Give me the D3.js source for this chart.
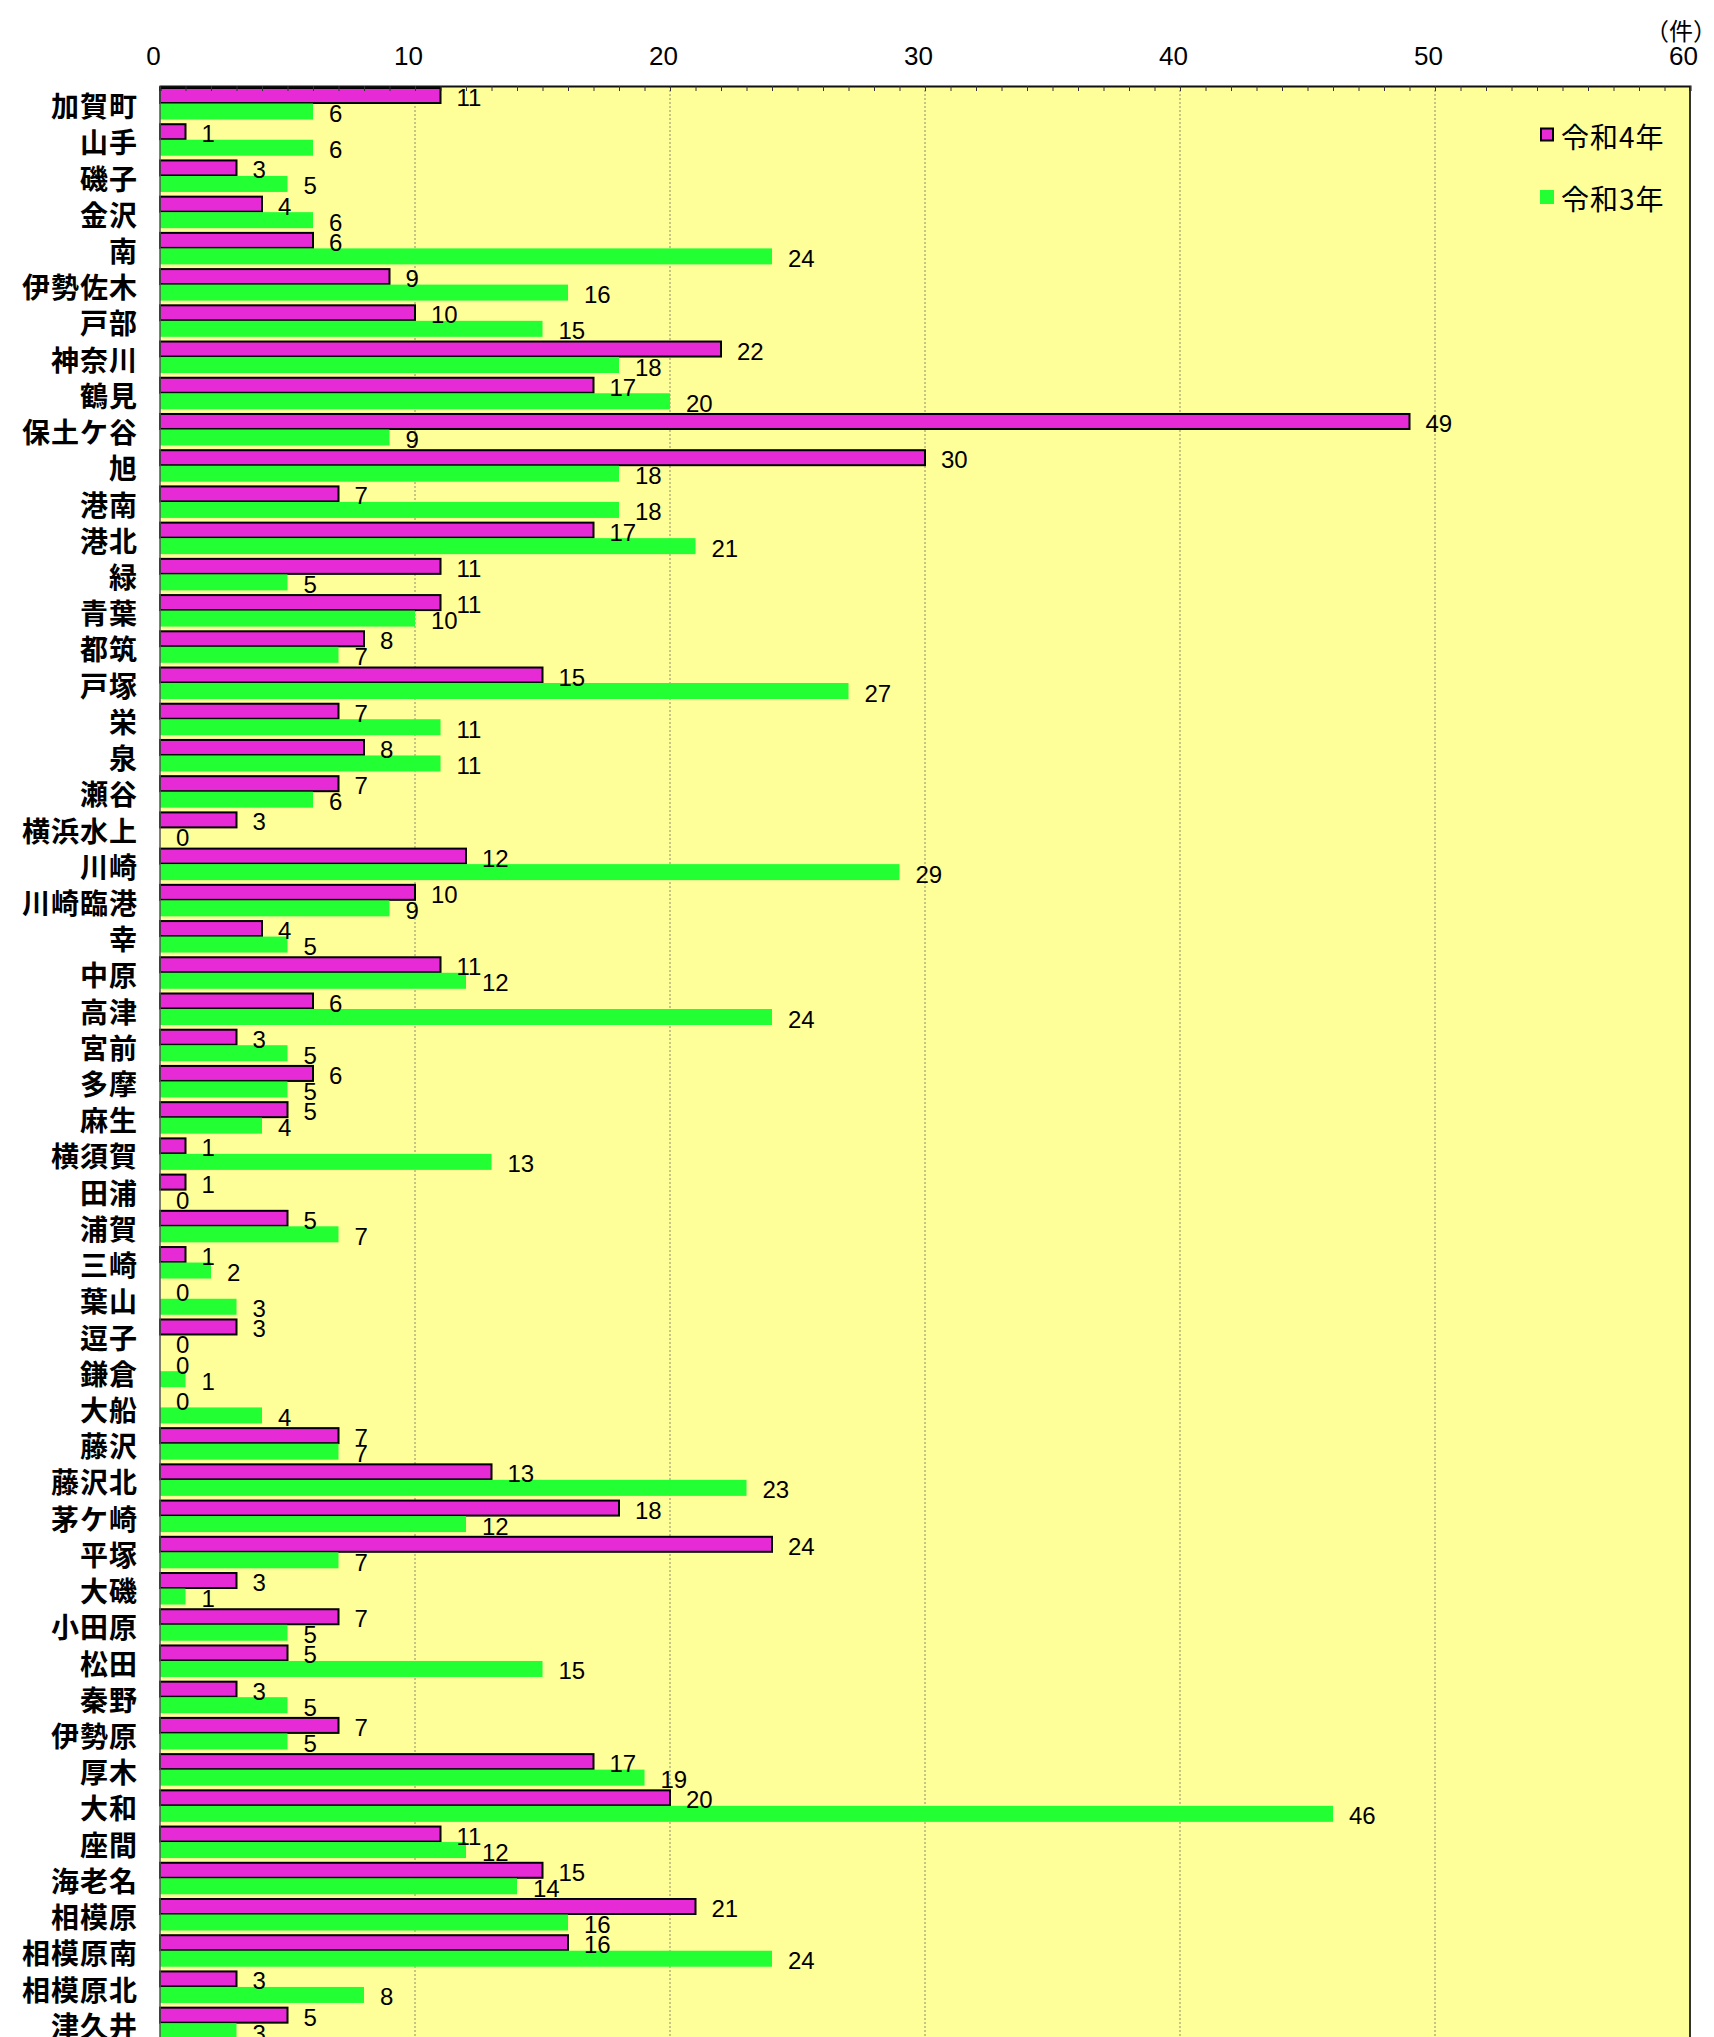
<!DOCTYPE html>
<html>
<head>
<meta charset="utf-8">
<script src="https://cdn.jsdelivr.net/npm/d3@7/dist/d3.min.js"></script>
<style>
  html, body { margin: 0; padding: 0; background: #ffffff; }
  svg { display: block; }
  .num { font-family: "Liberation Sans Narrow", "Arial Narrow", "Liberation Sans", sans-serif; font-stretch: condensed; }
  .jp { font-family: "Noto Sans CJK JP", "Noto Sans", sans-serif; }
</style>
</head>
<body>
<svg id="chart" width="1714" height="2037"></svg>
<script>
// Police stations (rows, top to bottom)
const categories = [
  "加賀町","山手","磯子","金沢","南","伊勢佐木","戸部","神奈川","鶴見","保土ケ谷",
  "旭","港南","港北","緑","青葉","都筑","戸塚","栄","泉","瀬谷",
  "横浜水上","川崎","川崎臨港","幸","中原","高津","宮前","多摩","麻生","横須賀",
  "田浦","浦賀","三崎","葉山","逗子","鎌倉","大船","藤沢","藤沢北","茅ケ崎",
  "平塚","大磯","小田原","松田","秦野","伊勢原","厚木","大和","座間","海老名",
  "相模原","相模原南","相模原北","津久井"
];

// 令和4年 counts
const reiwa4 = [
  11, 1, 3, 4, 6, 9, 10, 22, 17, 49,
  30, 7, 17, 11, 11, 8, 15, 7, 8, 7,
  3, 12, 10, 4, 11, 6, 3, 6, 5, 1,
  1, 5, 1, 0, 3, 0, 0, 7, 13, 18,
  24, 3, 7, 5, 3, 7, 17, 20, 11, 15,
  21, 16, 3, 5
];

// 令和3年 counts
const reiwa3 = [
  6, 6, 5, 6, 24, 16, 15, 18, 20, 9,
  18, 18, 21, 5, 10, 7, 27, 11, 11, 6,
  0, 29, 9, 5, 12, 24, 5, 5, 4, 13,
  0, 7, 2, 3, 0, 1, 4, 7, 23, 12,
  7, 1, 5, 15, 5, 5, 19, 46, 12, 14,
  16, 24, 8, 3
];

const seriesNames = ["令和4年", "令和3年"];
const xMax = 60;
const majorTicks = [0, 10, 20, 30, 40, 50, 60];
const minorTicks = d3.range(0, 61, 1);
const unitLabel = "（件）";

const colors = { "令和4年": "#e62ad6", "令和3年": "#22ff33" };

const svg = d3.select("#chart");

const plotLeft = 160, plotRight = 1690, plotTop = 86, rowH = 36.22;
const plotBottom = plotTop + categories.length * rowH;

const x = d3.scaleLinear().domain([0, xMax]).range([plotLeft, plotRight]);
const y = d3.scaleBand().domain(categories).range([plotTop, plotBottom]).padding(0);
const sub = d3.scaleBand().domain(seriesNames).range([1.5, 33.5]).padding(0);

const rows = categories.map((c, i) => ({ name: c, values: [
  { series: seriesNames[0], value: reiwa4[i] },
  { series: seriesNames[1], value: reiwa3[i] }
]}));

// plot background
svg.append("rect")
  .attr("x", plotLeft).attr("y", plotTop)
  .attr("width", plotRight - plotLeft).attr("height", plotBottom - plotTop)
  .attr("fill", "#ffff99");

// dashed vertical gridlines
svg.append("g").selectAll("line")
  .data(majorTicks.filter(t => t > 0 && t < xMax))
  .join("line")
  .attr("x1", d => x(d)).attr("x2", d => x(d))
  .attr("y1", plotTop).attr("y2", plotBottom)
  .attr("stroke", "#8a8a70").attr("stroke-width", 1)
  .attr("stroke-dasharray", "2,2");

// bars
const groups = svg.append("g").selectAll("g")
  .data(rows)
  .join("g")
  .attr("transform", d => `translate(0,${y(d.name)})`);

groups.selectAll("rect")
  .data(d => d.values)
  .join("rect")
  .attr("x", x(0))
  .attr("y", d => sub(d.series) + (d.series === seriesNames[0] ? 0.5 : 0))
  .attr("width", d => x(d.value) - x(0))
  .attr("height", d => sub.bandwidth() - (d.series === seriesNames[0] ? 1 : 0))
  .attr("fill", d => colors[d.series])
  .attr("stroke", d => d.series === seriesNames[0] ? "#000" : "none")
  .attr("stroke-width", 2);

// value labels
groups.selectAll("text")
  .data(d => d.values)
  .join("text")
  .attr("class", "num")
  .attr("x", d => x(d.value) + 16)
  .attr("y", d => sub(d.series) + sub.bandwidth() / 2 + 2)
  .attr("dominant-baseline", "central")
  .attr("font-size", 24)
  .attr("fill", "#000")
  .text(d => d.value);

// frame: left, right
svg.append("line")
  .attr("x1", plotLeft).attr("x2", plotLeft).attr("y1", plotTop).attr("y2", plotBottom)
  .attr("stroke", "#555").attr("stroke-width", 1.5);
svg.append("line")
  .attr("x1", plotRight).attr("x2", plotRight).attr("y1", plotTop).attr("y2", plotBottom)
  .attr("stroke", "#333").attr("stroke-width", 2);

// top axis with inward minor ticks every unit
const axis = d3.axisTop(x)
  .tickValues(minorTicks)
  .tickSize(-5)
  .tickPadding(21)
  .tickFormat(d => majorTicks.includes(d) ? d : "");

const ax = svg.append("g")
  .attr("transform", `translate(0,${plotTop})`)
  .call(axis);
ax.select(".domain").attr("stroke", "#111").attr("stroke-width", 2);
ax.selectAll(".tick line").attr("stroke", "#333").attr("stroke-width", 1);
ax.selectAll(".tick text")
  .attr("class", "num")
  .attr("font-size", 26)
  .attr("fill", "#000")
  .attr("dx", -7);
ax.attr("font-family", null).attr("font-size", null);

// unit label
svg.append("text")
  .attr("class", "jp")
  .attr("x", 1681).attr("y", 29)
  .attr("text-anchor", "middle")
  .attr("dominant-baseline", "central")
  .attr("font-size", 24)
  .attr("fill", "#000")
  .text(unitLabel);

// category labels
svg.append("g").selectAll("text")
  .data(categories)
  .join("text")
  .attr("class", "jp")
  .attr("x", 138)
  .attr("y", d => y(d) + y.bandwidth() / 2 + 1)
  .attr("text-anchor", "end")
  .attr("dominant-baseline", "central")
  .attr("font-size", 28)
  .attr("letter-spacing", 1)
  .attr("font-weight", 700)
  .attr("fill", "#000")
  .text(d => d);

// legend
const legend = svg.append("g").selectAll("g")
  .data(seriesNames)
  .join("g")
  .attr("transform", (d, i) => `translate(1540,${134.5 + i * 62.5})`);

legend.append("rect")
  .attr("x", d => d === seriesNames[0] ? 1 : 0)
  .attr("y", d => d === seriesNames[0] ? -6 : -7)
  .attr("width", d => d === seriesNames[0] ? 12 : 14)
  .attr("height", d => d === seriesNames[0] ? 12 : 14)
  .attr("fill", d => colors[d])
  .attr("stroke", d => d === seriesNames[0] ? "#000" : "none")
  .attr("stroke-width", 2);

legend.append("text")
  .attr("class", "jp")
  .attr("x", 21)
  .attr("y", 1)
  .attr("dominant-baseline", "central")
  .attr("font-size", 28)
  .attr("letter-spacing", 1)
  .attr("fill", "#000")
  .text(d => d);
</script>
</body>
</html>
